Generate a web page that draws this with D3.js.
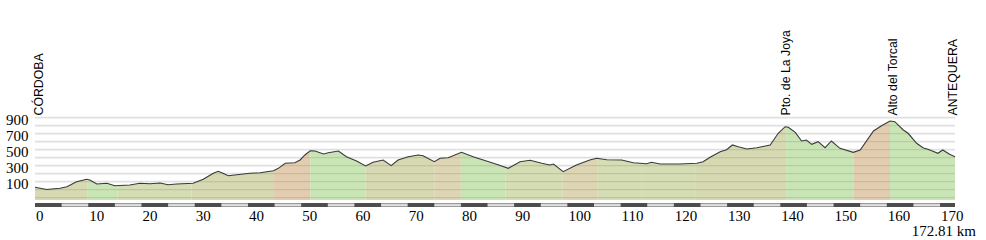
<!DOCTYPE html>
<html>
<head>
<meta charset="utf-8">
<script src="https://cdn.jsdelivr.net/npm/d3@7/dist/d3.min.js"></script>
<style>
  html, body { margin: 0; padding: 0; background: #fff; }
  svg { display: block; }
</style>
</head>
<body>
<svg id="chart" width="986" height="240"></svg>
<script>
// ---- Data ----
const profileKm = [0.0, 2.2, 4.7, 6.0, 7.8, 9.7, 10.3, 11.6, 13.5, 15.0, 17.8, 19.7, 21.6, 23.5, 25.0, 26.6, 29.7, 31.6, 33.5, 34.4, 35.1, 36.3, 37.9, 40.4, 42.3, 44.8, 45.7, 47.0, 48.8, 49.8, 50.7, 51.7, 52.6, 54.2, 55.1,
  57.0, 58.5, 60.4, 62.1, 63.5, 65.4, 66.9, 68.2, 70.1, 72.0, 72.9, 75.0, 76.1, 77.6, 80.1, 82.3, 84.2, 86.7, 88.9, 91.1, 93.0, 95.2, 96.7, 97.4, 99.2, 101.7, 104.2, 105.5, 107.4, 110.2, 112.4, 114.9, 115.8, 117.4,
  121.1, 124.3, 125.5, 126.8, 128.7, 129.9, 131.0, 132.1, 133.7, 135.6, 138.1, 139.6, 140.9, 141.5, 142.8, 144.0, 144.9, 145.9, 147.1, 148.4, 149.6, 151.2, 153.7, 155.0, 157.5, 159.0, 160.6, 161.5, 163.1, 164.0, 165.6, 166.8, 168.1, 169.6, 170.5, 171.8, 172.81];
const profileElev = [29, 2, 16, 36, 99, 129, 120, 70, 79, 49, 57, 79, 74, 82, 61, 70, 79, 129, 204, 229, 211, 174, 186, 204, 211, 236, 266, 329, 336, 370, 433, 486, 483, 445, 461,
  483, 411, 358, 295, 341, 370, 299, 370, 411, 433, 424, 349, 391, 399, 466, 411, 370, 316, 266, 349, 366, 329, 308, 320, 224, 308, 370, 391, 374, 370, 336, 324, 341, 320,
  320, 329, 349, 404, 474, 499, 558, 536, 508, 524, 558, 704, 786, 779, 716, 608, 620, 566, 599, 524, 608, 516, 466, 495, 733, 799, 858, 849, 745, 704, 579, 524, 495, 454, 495, 441, 411];

const segStart = [0, 9.8, 15.5, 29.4, 44.9, 51.7, 62.1, 75.0, 80.0, 88.4, 99.1, 105.6, 114.0, 124.0, 141.1, 153.8, 160.6];
const segEnd   = [9.8, 15.5, 29.4, 44.9, 51.7, 62.1, 75.0, 80.0, 88.4, 99.1, 105.6, 114.0, 124.0, 141.1, 153.8, 160.6, 172.81];
const segType  = ["f2", "d", "f1", "f2", "c2", "d", "f2", "c1", "d", "f1", "c1", "f1", "f1", "f2", "d", "c2", "d"];

const placeNames = ["CÓRDOBA", "Pto. de La Joya", "Alto del Torcal", "ANTEQUERA"];
const placeKm = [0, 140.3, 160.5, 172.81];

const yTickLabels = [100, 300, 500, 700, 900];
const gridValues = [-100, 0, 100, 200, 300, 400, 500, 600, 700, 800, 900];
const xTickValues = [0, 10, 20, 30, 40, 50, 60, 70, 80, 90, 100, 110, 120, 130, 140, 150, 160, 170];
const totalKm = 172.81;
const totalLabel = "172.81 km";

// ---- Styles ----
const segColors = { d: "#cae5b5", f1: "#d4ddb4", f2: "#d7d9b2", c1: "#ddd5b3", c2: "#e3cdb1" };

const svg = d3.select("#chart");
const x = d3.scaleLinear().domain([0, totalKm]).range([35, 955]);
const y = d3.scaleLinear().domain([-130, 900]).range([200, 117.6]);

const pts = profileKm.map((k, i) => [k, profileElev[i]]);

// gridlines (light, full width)
svg.append("g").selectAll("line").data(gridValues).join("line")
  .attr("x1", x(0)).attr("x2", x(totalKm))
  .attr("y1", d => y(d)).attr("y2", d => y(d))
  .attr("stroke", "#e0e0e0").attr("stroke-width", 1.6);

// segment fills
const defs = svg.append("defs");
const area = d3.area().x(d => x(d[0])).y0(y(-130)).y1(d => y(d[1])).curve(d3.curveLinear);
segStart.forEach((s, i) => {
  const id = "clip" + i;
  defs.append("clipPath").attr("id", id).append("rect")
    .attr("x", x(s)).attr("y", 0)
    .attr("width", x(segEnd[i]) - x(s)).attr("height", 240);
  svg.append("path").datum(pts)
    .attr("clip-path", "url(#" + id + ")")
    .attr("d", area)
    .attr("fill", segColors[segType[i]]);
});

// gridlines seen through the fill (darker), clipped below the profile
defs.append("clipPath").attr("id", "belowProfile").append("path").datum(pts).attr("d", area);
svg.append("g").attr("clip-path", "url(#belowProfile)")
  .selectAll("line").data(gridValues).join("line")
  .attr("x1", x(0)).attr("x2", x(totalKm))
  .attr("y1", d => y(d)).attr("y2", d => y(d))
  .attr("stroke", "rgba(0,0,0,0.10)").attr("stroke-width", 1.2);

// profile line
svg.append("path").datum(pts)
  .attr("d", d3.line().x(d => x(d[0])).y(d => y(d[1])))
  .attr("fill", "none").attr("stroke", "#3a3a3a").attr("stroke-width", 1.1);

// axis bar
const bar = svg.append("g");
bar.append("rect").attr("x", x(0)).attr("y", 203).attr("width", x(totalKm) - x(0)).attr("height", 4).attr("fill", "#9a9a9a");
bar.append("rect").attr("x", x(0)).attr("y", 204.4).attr("width", x(totalKm) - x(0)).attr("height", 1.3).attr("fill", "#ffffff");
const darkStarts = d3.range(0, totalKm, 10);
bar.selectAll("rect.dk").data(darkStarts).join("rect").attr("class", "dk")
  .attr("x", d => x(d)).attr("y", 203)
  .attr("width", d => x(Math.min(d + 5, totalKm)) - x(d)).attr("height", 4)
  .attr("fill", "#4d4d4d");

// x tick labels
svg.append("g").selectAll("text").data(xTickValues).join("text")
  .attr("x", d => x(d) + 1).attr("y", 221)
  .attr("font-family", "'Liberation Serif', 'Times New Roman', serif")
  .attr("font-size", 15).attr("fill", "#000")
  .text(d => d);

svg.append("text").attr("x", 976).attr("y", 236)
  .attr("text-anchor", "end")
  .attr("font-family", "'Liberation Serif', 'Times New Roman', serif")
  .attr("font-size", 15).attr("fill", "#000")
  .text(totalLabel);

// y tick labels
svg.append("g").selectAll("text").data(yTickLabels).join("text")
  .attr("x", 28.5).attr("y", d => y(d) + 7.4)
  .attr("text-anchor", "end")
  .attr("font-family", "'Liberation Serif', 'Times New Roman', serif")
  .attr("font-size", 15).attr("fill", "#000")
  .text(d => d);

// place labels (vertical)
svg.append("g").selectAll("text").data(placeNames).join("text")
  .attr("transform", (d, i) => {
    const px = Math.min(x(placeKm[i]) + 8, 957);
    return "translate(" + px + ",115.5) rotate(-90)";
  })
  .attr("font-family", "'Liberation Sans', Arial, sans-serif")
  .attr("font-size", 12.3).attr("fill", "#000")
  .text(d => d);
</script>
</body>
</html>
